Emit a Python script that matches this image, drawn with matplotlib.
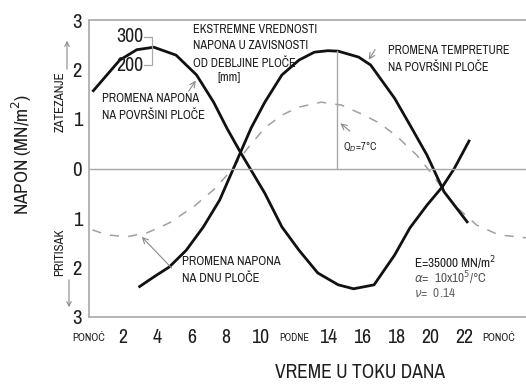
import matplotlib
matplotlib.use("Agg")
import matplotlib.pyplot as plt
from matplotlib import font_manager
from matplotlib.patches import FancyArrowPatch

# uzak font ako postoji, inace Liberation Sans
fam, stretch = 'Liberation Sans', 'normal'
for f in font_manager.fontManager.ttflist:
    if f.style != 'normal' or f.weight not in (400, 'normal', 'regular'):
        continue
    if 'Narrow' in f.name or 'Condensed' in f.name:
        fam, stretch = f.name, f.stretch
        break
    if f.stretch in ('condensed', 'semi-condensed') and fam == 'Liberation Sans':
        fam, stretch = f.name, f.stretch
plt.rcParams['font.family'] = [fam, 'DejaVu Sans']
plt.rcParams['font.stretch'] = stretch

# napon na povrsini ploce (sati, MN/m2)
h_povrsina = [0.2, 1.05, 1.8, 2.8, 3.8, 5.1, 6.3, 7.3, 8.1, 8.9, 10.3, 11.3, 12.3,
              13.4, 14.6, 15.5, 16.7, 17.9, 18.8, 19.8, 20.7, 21.4, 22.3]
n_povrsina = [1.55, 1.89, 2.19, 2.4, 2.45, 2.29, 1.89, 1.34, 0.80, 0.31, -0.50, -1.18, -1.65,
              -2.11, -2.35, -2.43, -2.35, -1.75, -1.2, -0.74, -0.37, 0.0, 0.58]

# napon na dnu ploce
h_dno = [2.9, 3.8, 4.7, 5.7, 6.7, 7.65, 8.5, 9.5, 10.3, 11.3, 12.3, 13.2, 14.0, 14.6,
         15.8, 16.5, 17.9, 18.8, 19.8, 20.8, 22.2]
n_dno = [-2.4, -2.19, -1.99, -1.65, -1.18, -0.64, 0.03, 0.82, 1.34, 1.89, 2.19, 2.35, 2.38, 2.37,
         2.25, 2.09, 1.42, 0.88, 0.27, -0.47, -1.1]

# promena temperature (isprekidana)
h_temp = [0.2, 1.05, 2.2, 3.4, 4.7, 6.1, 7.3, 8.2, 9.3, 10.3, 11.3, 12.3, 13.6, 14.8,
          16.1, 17.0, 18.0, 19.2, 20.0, 21.4, 22.7, 24.0, 25.6]
t_temp = [-1.24, -1.34, -1.38, -1.3, -1.1, -0.78, -0.43, -0.09, 0.41, 0.82, 1.08, 1.24, 1.34, 1.28,
          1.08, 0.92, 0.66, 0.27, -0.07, -0.74, -1.14, -1.34, -1.40]

x_ticks = [0, 2, 4, 6, 8, 10, 12, 14, 16, 18, 20, 22, 24]
x_labels = ['PONOĆ', '2', '4', '6', '8', '10', 'PODNE', '14', '16', '18', '20', '22', 'PONOĆ']
y_ticks = [-3, -2, -1, 0, 1, 2, 3]
y_labels = ['3', '2', '1', '0', '1', '2', '3']

W, H = 526, 384
def px(x, y):
    return x / W, 1 - y / H

fig = plt.figure(figsize=(5.26, 3.84), dpi=100)
ax = fig.add_axes([89 / W, 1 - 317 / H, 1 - 89 / W, (317 - 20) / H])
renderer = fig.canvas.get_renderer()

def fit(t, size_px, vertical=False):
    # prilagodi velicinu fonta da tekst bude siroki kao na slici
    bb = t.get_window_extent(renderer)
    cur = bb.height if vertical else bb.width
    t.set_fontsize(t.get_fontsize() * size_px / cur)
    return t

gray = '#a8a8a8'
txt = '#1e1e1e'
arr = dict(arrowstyle='->', color='#8a8a8a', lw=0.8)

ax.plot(h_temp, t_temp, color='#a0a0a0', lw=1.1, dashes=(6, 6))
ax.plot(h_povrsina, n_povrsina, color='#111111', lw=2.0, solid_capstyle='butt')
ax.plot(h_dno, n_dno, color='#111111', lw=2.0, solid_capstyle='butt')

ax.axhline(0, color=gray, lw=1.0)
ax.plot([14.5, 14.5], [0, 2.37], color=gray, lw=1.0)

ax.set_xlim(0, 25.6)
ax.set_ylim(-3, 3)
ax.spines['right'].set_visible(False)
for s in ['left', 'top', 'bottom']:
    ax.spines[s].set_color(gray)
    ax.spines[s].set_linewidth(1.2)

ax.set_xticks(x_ticks)
ax.set_xticklabels(x_labels)
ax.set_yticks(y_ticks)
ax.set_yticklabels(y_labels, color=txt)
ax.tick_params(length=0)
ax.tick_params(axis='y', pad=5)
ax.tick_params(axis='x', pad=15)

# velicina cifara prema sirini "10"
probe = fit(fig.text(0, 0, '10'), 18)
digit_fs = probe.get_fontsize()
probe.remove()

for lab in ax.get_yticklabels():
    lab.set_fontsize(digit_fs * 1.05)
for lab in ax.get_xticklabels():
    lab.set_color(txt)
    lab.set_verticalalignment('center')
    if lab.get_text() == 'PONOĆ':
        fit(lab, 33)
    elif lab.get_text() == 'PODNE':
        fit(lab, 30)
    else:
        lab.set_fontsize(digit_fs)

# 300 / 200 zagrada
fit(ax.text(2.4, 2.66, '300', color=txt, ha='center', va='center'), 27)
fit(ax.text(2.4, 2.09, '200', color=txt, ha='center', va='center'), 27)
ax.plot([3.2, 3.68, 3.68, 3.2], [2.66, 2.66, 2.09, 2.09], color=gray, lw=0.9)

fit(ax.text(6.1, 2.92, 'EKSTREMNE VREDNOSTI\nNAPONA U ZAVISNOSTI\nOD DEBLJINE PLOČE',
            color=txt, va='top', ha='left', linespacing=1.6), 124)
fit(ax.text(8.2, 1.83, '[mm]', color=txt, va='center', ha='center'), 23)

fit(ax.text(0.76, 1.25, 'PROMENA NAPONA\nNA POVRŠINI PLOČE', color=txt,
            va='center', ha='left', linespacing=1.6), 103)
ax.annotate('', xy=(6.35, 1.82), xytext=(5.75, 1.52), arrowprops=arr)

fit(ax.text(17.5, 2.21, 'PROMENA TEMPRETURE\nNA POVRŠINI PLOČE', color=txt,
            va='center', ha='left', linespacing=1.6), 122)
ax.annotate('', xy=(16.3, 2.15), xytext=(16.85, 2.45), arrowprops=arr)

fit(ax.text(14.9, 0.43, 'Q$_D$=7°C', color=txt, va='center', ha='left'), 34)
ax.annotate('', xy=(14.6, 0.95), xytext=(15.4, 0.72), arrowprops=arr)

fit(ax.text(5.45, -2.05, 'PROMENA NAPONA\nNA DNU PLOČE', color=txt,
            va='center', ha='left', linespacing=1.6), 99)
ax.annotate('', xy=(2.98, -1.34), xytext=(4.95, -2.05), arrowprops=arr)

e_txt = fit(ax.text(19.05, -1.91, 'E=35000 MN/m$^2$', color=txt, va='center', ha='left'), 82)
fs = e_txt.get_fontsize()
ax.text(19.05, -2.21, '$\\alpha$=  10x10$^5$/°C', fontsize=fs, color='#555555', va='center', ha='left')
ax.text(19.05, -2.51, '$\\nu$=  0.14', fontsize=fs, color='#666666', va='center', ha='left')

# oznake van grafika
fit(fig.text(*px(22, 154), 'NAPON (MN/m$^2$)', rotation=90, color=txt,
             ha='center', va='center'), 122, vertical=True)
fit(fig.text(*px(60, 102), 'ZATEZANJE', rotation=90, color=txt,
             ha='center', va='center'), 61, vertical=True)
fit(fig.text(*px(60, 252), 'PRITISAK', rotation=90, color=txt,
             ha='center', va='center'), 48, vertical=True)
fig.add_artist(FancyArrowPatch(px(67, 72), px(67, 38), transform=fig.transFigure,
               arrowstyle='->', mutation_scale=8, color='#8a8a8a', lw=0.8))
fig.add_artist(FancyArrowPatch(px(69, 277), px(69, 310), transform=fig.transFigure,
               arrowstyle='->', mutation_scale=8, color='#8a8a8a', lw=0.8))
fit(fig.text(*px(360, 373), 'VREME U TOKU DANA', color=txt, ha='center', va='center'), 170)

fig.savefig('out.png', dpi=100)
